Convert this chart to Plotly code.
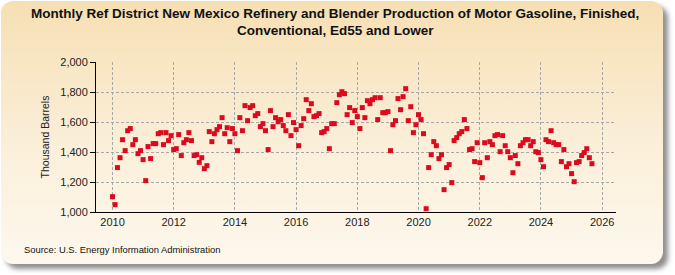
import base64

import pandas as pd
import plotly.graph_objects as go

TITLE_1 = "Monthly Ref District New Mexico Refinery and Blender Production of Motor Gasoline, Finished,"
TITLE_2 = "Conventional, Ed55 and Lower"
Y_TITLE = "Thousand Barrels"
SOURCE = "Source: U.S. Energy Information Administration"
START = "2010-01-01"

# thousand barrels, monthly from Jan 2010
VALUES = [
    1102, 1049, 1296, 1362, 1482, 1409, 1542, 1556, 1449, 1482, 1389, 1409,
    1349, 1209, 1436, 1356, 1456, 1456, 1522, 1529, 1449, 1529, 1476, 1509,
    1416, 1422, 1516, 1376, 1462, 1482, 1529, 1476, 1376, 1382, 1331, 1362,
    1289, 1309, 1536, 1469, 1522, 1549, 1569, 1629, 1522, 1562, 1469, 1556,
    1522, 1409, 1629, 1542, 1709, 1609, 1696, 1709, 1642, 1656, 1569, 1589,
    1542, 1416, 1676, 1569, 1629, 1602, 1616, 1576, 1542, 1649, 1509, 1596,
    1549, 1442, 1576, 1622, 1749, 1676, 1722, 1636, 1642, 1656, 1529, 1536,
    1556, 1422, 1589, 1589, 1729, 1782, 1802, 1789, 1649, 1696, 1596, 1676,
    1636, 1556, 1696, 1629, 1742, 1722, 1749, 1762, 1616, 1762, 1662, 1662,
    1669, 1409, 1582, 1609, 1756, 1682, 1769, 1822, 1609, 1702, 1529, 1582,
    1649, 1616, 1522, 1022, 1296, 1382, 1469, 1442, 1356, 1382, 1149, 1296,
    1316, 1196, 1476, 1496, 1522, 1536, 1616, 1556, 1416, 1422, 1336, 1462,
    1329, 1229, 1462, 1362, 1469, 1449, 1509, 1516, 1402, 1509, 1442, 1402,
    1362, 1262, 1376, 1322, 1442, 1462, 1482, 1482, 1442, 1469, 1402, 1396,
    1349, 1302, 1482, 1469, 1542, 1462, 1449, 1449, 1336, 1416, 1302, 1322,
    1256, 1202, 1329, 1336, 1376, 1396, 1422, 1362, 1322,
]
Y_TICKS = [1000, 1200, 1400, 1600, 1800, 2000]
X_TICKS = [f"{y}-01-01" for y in range(2010, 2027, 2)]
X_LABELS = [str(y) for y in range(2010, 2027, 2)]

W, H = 675, 275
L, R, T, B = 96, 59, 62, 63
FONT = "Liberation Sans, Arial, sans-serif"
RED = "#dc0a1e"

dates = pd.date_range(START, periods=len(VALUES), freq="MS")

# beige rounded panel with a soft shadow, as an inline svg
svg = f"""<svg xmlns="http://www.w3.org/2000/svg" width="{W}" height="{H}">
<defs>
<linearGradient id="g" x1="0" y1="0" x2="0" y2="1">
<stop offset="0" stop-color="#f6dfb3"/><stop offset="0.55" stop-color="#fbefd9"/>
<stop offset="1" stop-color="#fdf8ee"/></linearGradient>
<filter id="s" x="-5%" y="-5%" width="110%" height="115%"><feGaussianBlur stdDeviation="2.5"/></filter>
</defs>
<rect x="6" y="6" width="662" height="263" rx="12" fill="#8f8f8f" filter="url(#s)"/>
<rect x="1" y="1" width="662" height="263" rx="12" fill="url(#g)"/>
</svg>"""
bg_src = "data:image/svg+xml;base64," + base64.b64encode(svg.encode()).decode()

pw, ph = W - L - R, H - T - B


def px_x(px):
    return (px - L) / pw


def px_y(py):
    return (H - B - py) / ph


def label(text, x, y, size, xanchor="center", bold=False):
    return dict(text=text, xref="paper", yref="paper", x=px_x(x), y=px_y(y),
                xanchor=xanchor, yanchor="middle", showarrow=False,
                font=dict(family=FONT, size=size, color="#111", weight="bold" if bold else "normal"))


fig = go.Figure(go.Scatter(
    x=dates, y=VALUES, mode="markers",
    marker=dict(symbol="square", size=5, color=RED),
    hoverinfo="x+y",
))

fig.update_layout(
    width=W, height=H, margin=dict(l=L, r=R, t=T, b=B, autoexpand=False),
    paper_bgcolor="white", plot_bgcolor="white", showlegend=False,
    font=dict(family=FONT, size=11, color="#222"),
    images=[dict(source=bg_src, xref="paper", yref="paper", x=-L / pw, y=1 + T / ph,
                 sizex=W / pw, sizey=H / ph, xanchor="left", yanchor="top",
                 sizing="stretch", layer="below")],
    annotations=[
        label(TITLE_1, 335, 13, 13.5, bold=True),
        label(TITLE_2, 335, 31, 13.5, bold=True),
        label(SOURCE, 22, 249, 9.4, xanchor="left"),
    ],
)
fig.update_xaxes(
    type="date", range=["2009-06-18", "2026-06-15"], automargin=False,
    tickvals=X_TICKS, ticktext=X_LABELS, ticks="", tickfont=dict(size=11),
    showgrid=True, gridcolor="#a8a8a8", griddash="3px,2px", gridwidth=1,
    showline=True, linecolor="black", linewidth=1, zeroline=False,
)
fig.update_yaxes(
    range=[1000, 2000], tickvals=Y_TICKS, tickformat=",", ticks="outside", ticklen=5,
    tickcolor="black", tickfont=dict(size=11), automargin=False,
    showgrid=True, gridcolor="#a8a8a8", griddash="3px,2px", gridwidth=1,
    showline=True, linecolor="black", linewidth=1, zeroline=False,
    title=dict(text=Y_TITLE, font=dict(size=10.5), standoff=8),
)

# drop the browser's default body margin so the figure sits at the page corner
fig.write_html("out.html", config={"displayModeBar": False},
               post_script="document.body.style.margin='0';")
